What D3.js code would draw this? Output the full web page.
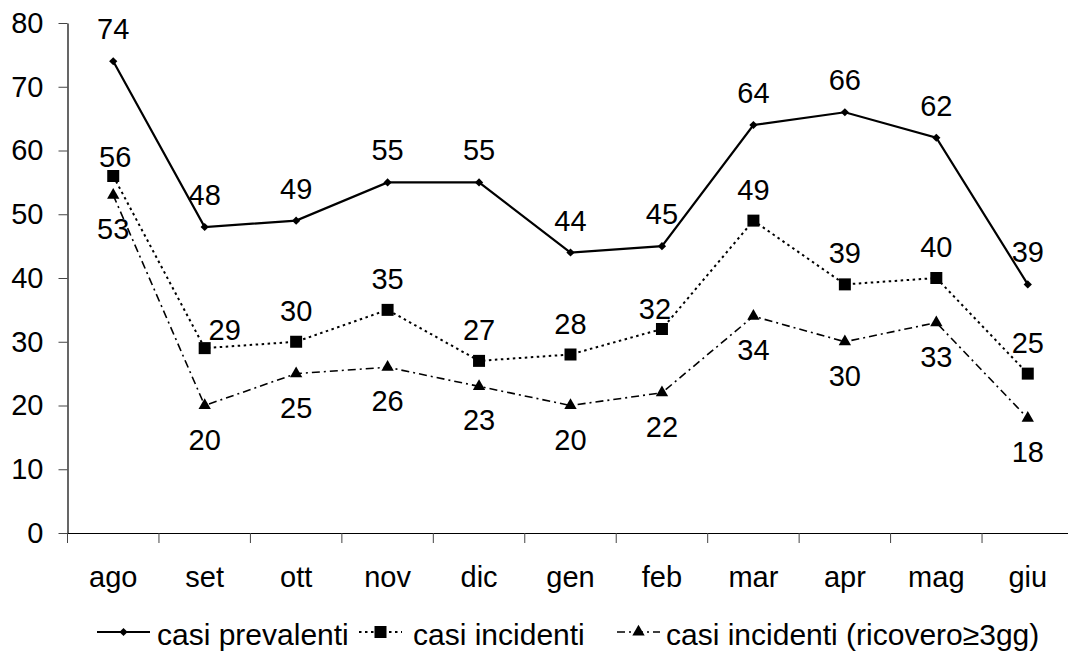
<!DOCTYPE html>
<html>
<head>
<meta charset="utf-8">
<script src="https://cdn.jsdelivr.net/npm/d3@7"></script>
<style>
  body { margin: 0; background: #fff; }
  text { font-family: "Liberation Sans", Arial, Helvetica, sans-serif; fill: #000; }
</style>
</head>
<body>
<svg id="chart" width="1068" height="655"></svg>
<script>
// Monthly case counts, August to June
const months = ["ago", "set", "ott", "nov", "dic", "gen", "feb", "mar", "apr", "mag", "giu"];
const casiPrevalenti = [74, 48, 49, 55, 55, 44, 45, 64, 66, 62, 39];
const casiIncidenti = [56, 29, 30, 35, 27, 28, 32, 49, 39, 40, 25];
const casiIncidenti3gg = [53, 20, 25, 26, 23, 20, 22, 34, 30, 33, 18];
const yTicks = [0, 10, 20, 30, 40, 50, 60, 70, 80];
const seriesNames = ["casi prevalenti", "casi incidenti", "casi incidenti (ricovero\u22653gg)"];

const svg = d3.select("#chart");

const x = d3.scaleBand().domain(months).range([67.5, 1073.5]);
const y = d3.scaleLinear().domain([0, 80]).range([533, 23]);
const cx = m => x(m) + x.bandwidth() / 2;

// Series styling: line dash, marker shape and where the value label sits
const styles = [
  { dash: null, width: 2.2, symbol: "diamond", labelDy: -22 },
  { dash: "2.5,3.5", width: 2, symbol: "square", labelDy: -21 },
  { dash: "8,4,2,4", width: 1.6, symbol: "triangle", labelDy: 44 }
];
// a few labels are shifted aside to keep them clear of the lines
const labelShift = { "1-0": [2, 12], "1-1": [20, 13], "1-6": [-7, 11] };

const seriesValues = [casiPrevalenti, casiIncidenti, casiIncidenti3gg];
const series = seriesValues.map((vals, i) => ({
  name: seriesNames[i],
  style: styles[i],
  points: months.map((m, j) => ({ m, v: vals[j], j }))
}));

function symbolPath(kind) {
  if (kind === "diamond") return d3.symbol(d3.symbolSquare, 34)();
  if (kind === "square") return d3.symbol(d3.symbolSquare, 144)();
  return d3.symbol(d3.symbolTriangle, 66)();
}
function symbolTransform(kind, px, py) {
  return kind === "diamond" ? `translate(${px},${py}) rotate(45)` : `translate(${px},${py})`;
}

// Y axis
const yAxis = svg.append("g").attr("transform", "translate(67.5,0)")
  .call(d3.axisLeft(y).tickValues(yTicks).tickSize(9).tickPadding(15).tickSizeOuter(0));
yAxis.select(".domain").attr("stroke", "#000").attr("stroke-width", 1.2);
yAxis.selectAll(".tick line").attr("stroke", "#444");
yAxis.selectAll(".tick text").style("font-size", "29px").attr("fill", "#000");

// X axis: labels centred in each month, ticks on the month boundaries
const xAxis = svg.append("g").attr("transform", "translate(0,533)")
  .call(d3.axisBottom(x).tickSize(0).tickPadding(33).tickSizeOuter(0));
xAxis.select(".domain").attr("stroke", "#000").attr("stroke-width", 1.2);
xAxis.selectAll(".tick text").style("font-size", "29px").attr("fill", "#000");
const boundaries = months.map(m => x(m)).concat([x.range()[1]]);
xAxis.selectAll("line.bound").data(boundaries).join("line")
  .attr("class", "bound")
  .attr("x1", d => d).attr("x2", d => d)
  .attr("y1", 0).attr("y2", 10)
  .attr("stroke", "#444").attr("stroke-width", 1);

// Lines, markers and value labels
const line = d3.line().x(d => cx(d.m)).y(d => y(d.v));

series.forEach((s, i) => {
  const g = svg.append("g");
  g.append("path")
    .datum(s.points)
    .attr("d", line)
    .attr("fill", "none")
    .attr("stroke", "#000")
    .attr("stroke-width", s.style.width)
    .attr("stroke-dasharray", s.style.dash);
  g.selectAll("path.mk").data(s.points).join("path")
    .attr("class", "mk")
    .attr("d", symbolPath(s.style.symbol))
    .attr("transform", d => symbolTransform(s.style.symbol, cx(d.m), y(d.v)))
    .attr("fill", "#000");
  g.selectAll("text").data(s.points).join("text")
    .attr("x", d => cx(d.m) + ((labelShift[i + "-" + d.j] || [0, 0])[0]))
    .attr("y", d => y(d.v) + s.style.labelDy + ((labelShift[i + "-" + d.j] || [0, 0])[1]))
    .attr("text-anchor", "middle")
    .style("font-size", "29px")
    .text(d => d.v);
});

// Legend along the bottom
const legendY = 632;
const legendItems = [
  { x0: 97, x1: 150, tx: 157 },
  { x0: 359, x1: 402, tx: 413 },
  { x0: 617, x1: 660, tx: 666 }
];
const legend = svg.append("g");
series.forEach((s, i) => {
  const it = legendItems[i];
  legend.append("line")
    .attr("x1", it.x0).attr("x2", it.x1)
    .attr("y1", legendY).attr("y2", legendY)
    .attr("stroke", "#000")
    .attr("stroke-width", s.style.width)
    .attr("stroke-dasharray", s.style.dash);
  legend.append("path")
    .attr("d", symbolPath(s.style.symbol))
    .attr("transform", symbolTransform(s.style.symbol, (it.x0 + it.x1) / 2, legendY))
    .attr("fill", "#000");
  legend.append("text")
    .attr("x", it.tx).attr("y", legendY + 13)
    .style("font-size", "30px")
    .text(s.name);
});
</script>
</body>
</html>
